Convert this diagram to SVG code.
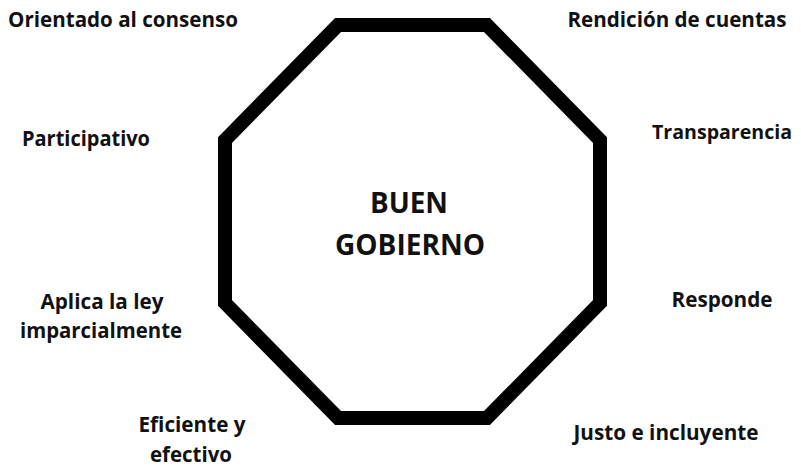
<svg xmlns="http://www.w3.org/2000/svg" width="801" height="467" viewBox="0 0 801 467">
<style>
.lbl{font-family:"Open Sans","Liberation Sans",sans-serif;font-weight:bold;font-size:21px;fill:#111;text-anchor:middle}
.ttl{font-family:"Open Sans","Liberation Sans",sans-serif;font-weight:bold;font-size:28px;fill:#111;text-anchor:middle}
.oct{fill:none;stroke:#000;stroke-width:14;stroke-linejoin:miter}
</style>
<rect width="801" height="467" fill="#fff"/>
<g id="octagon">
<polygon class="oct" points="338,25 487,25 600,140 600,303 487,418 338,418 225,303 225,140"/>
<text class="ttl" x="409" y="213" textLength="78" lengthAdjust="spacingAndGlyphs">BUEN</text>
<text class="ttl" x="410" y="255" textLength="150" lengthAdjust="spacingAndGlyphs">GOBIERNO</text>
</g>
<g id="connectors"></g>
<g id="n-consenso"><text class="lbl" x="123" y="27" textLength="230" lengthAdjust="spacingAndGlyphs">Orientado al consenso</text></g>
<g id="n-participativo"><text class="lbl" x="86" y="146" textLength="128" lengthAdjust="spacingAndGlyphs">Participativo</text></g>
<g id="n-rendicion"><text class="lbl" x="677" y="27" textLength="219" lengthAdjust="spacingAndGlyphs">Rendición de cuentas</text></g>
<g id="n-transparencia"><text class="lbl" x="722" y="139" style="font-size:20px" textLength="140" lengthAdjust="spacingAndGlyphs">Transparencia</text></g>
<g id="n-ley"><text class="lbl" x="102" y="309" textLength="123" lengthAdjust="spacingAndGlyphs">Aplica la ley</text><text class="lbl" x="101" y="338" textLength="162" lengthAdjust="spacingAndGlyphs">imparcialmente</text></g>
<g id="n-eficiente"><text class="lbl" x="192" y="432" textLength="107" lengthAdjust="spacingAndGlyphs">Eficiente y</text><text class="lbl" x="191" y="462" textLength="82" lengthAdjust="spacingAndGlyphs">efectivo</text></g>
<g id="n-responde"><text class="lbl" x="722" y="307" textLength="101" lengthAdjust="spacingAndGlyphs">Responde</text></g>
<g id="n-justo"><text class="lbl" x="666" y="440" textLength="185" lengthAdjust="spacingAndGlyphs">Justo e incluyente</text></g>
</svg>
